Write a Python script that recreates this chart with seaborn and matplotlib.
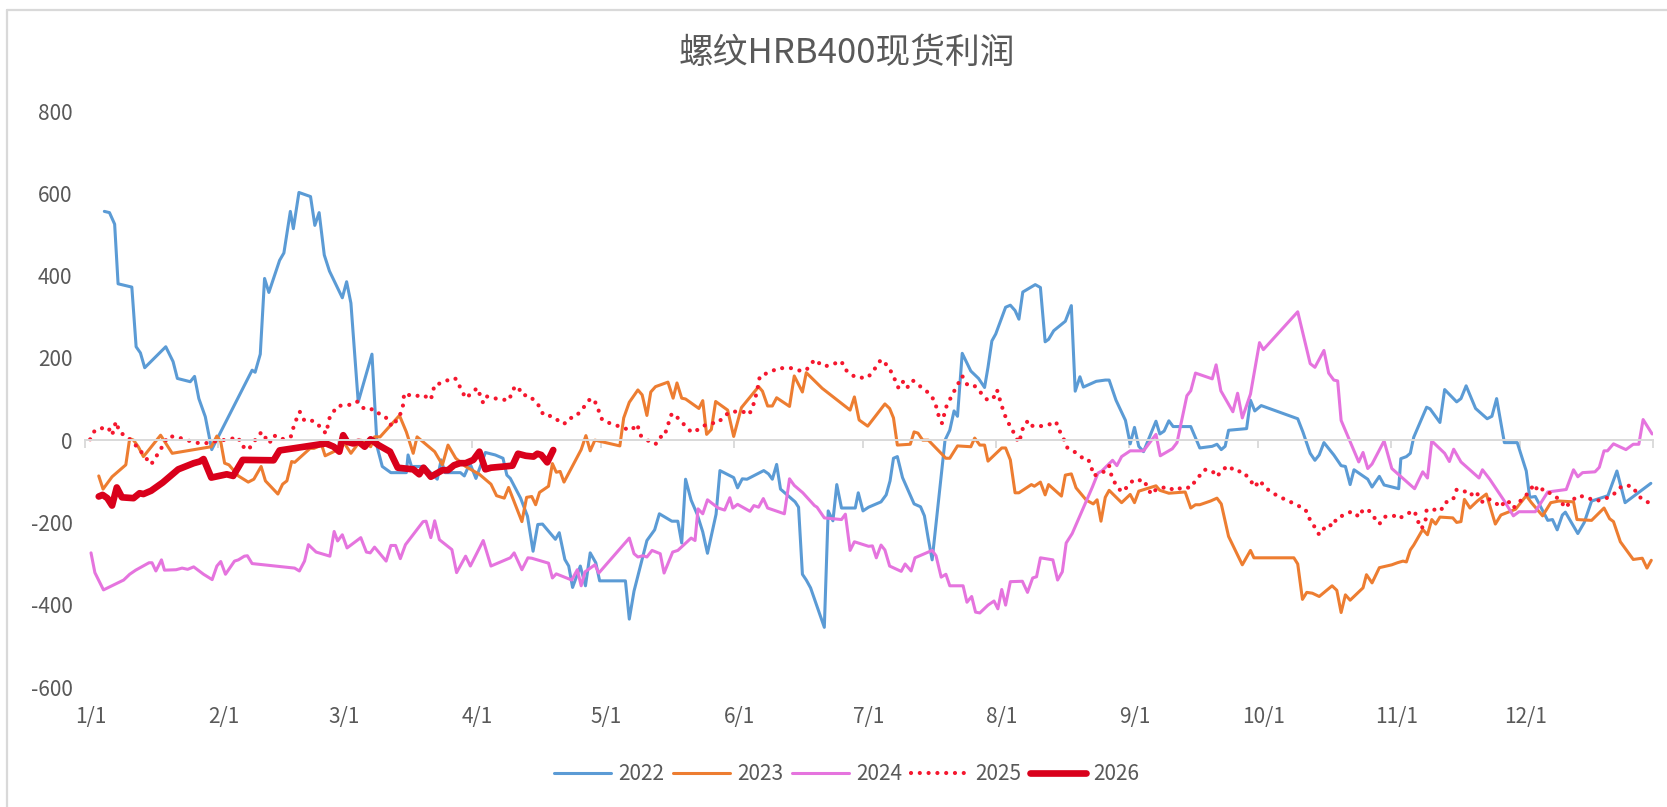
import matplotlib
matplotlib.use("Agg")
import matplotlib.pyplot as plt
from matplotlib.lines import Line2D
import seaborn as sns

# ---------------- data (day of year, value) ----------------
days_2022 = [4.5,5.7,6.9,7.7,10.9,11.9,12.9,13.9,18.8,20.5,21.5,24.5,25.5,26.5,28,29.5,38.9,39.6,40.8,41.8,42.8,45.3,46.3,47.8,48.5,49.8,52.5,53.5,54.5,55.7,56.9,59.9,60.9,61.9,63.6,66.8,68,
             69.2,71.2,74.8,75.2,76,79,82,82.9,83.8,87.4,88.3,89.6,91,93.2,95.5,97.3,98.2,99,101.4,103,104.3,105.4,106.5,109.5,110.4,111.7,112.6,113.5,115.3,116.5,117.6,118.9,119.8,
             125.8,126.7,127.8,130.8,132.6,133.7,136.6,138.0,138.9,139.8,141.1,142.5,143.8,144.9,146.9,147.8,151.0,151.9,153.0,154.1,158.0,159.1,160.0,161.0,161.9,165.3,166.1,167.0,167.9,168.9,172.1,173.0,174.1,175.0,176.1,179.3,180.0,181.1,182.4,185.3,186.5,187.4,188.2,189.1,190.3,193.0,194.5,195.4,196.3,197.2,200.2,201.3,202.3,203.1,204.2,206.2,208.0,209.4,210.2,211.1,212.0,214.3,215.4,216.5,217.4,218.3,221.2,222.4,223.5,224.3,225.5,228.2,229.6,230.5,231.6,232.4,235.4,
             237.5,238.4,240.0,242.2,243.3,244.3,245.3,246.4,249.3,250.2,251.2,252.3,253.3,257.4,259.5,262.4,263.5,264.5,265.4,266.2,270.4,271.3,272.3,273.8,282.3,283.5,285.2,286.3,287.3,288.4,290.7,292.4,293.4,294.5,295.4,298.6,299.6,301.3,302.4,305.8,306.3,307.6,308.5,309.3,312.3,313.1,315.4,316.5,319.3,320.3,321.5,323.7,326.4,327.5,328.6,330.4,333.4,335.5,336.3,337.6,340.5,341.6,342.7,343.9,344.6,347.5,349.0,350.7,354.5,356.6,358.5,364.5]
vals_2022 = [556,553,525,380,372,227,212,176,227,191,150,142,155,101,57,-23,170,165,209,393,359,437,455,556,514,602,592,522,553,450,411,346,385,333,93,209,-16,
             -64,-79,-79,-36,-64,-64,-95,-48,-79,-79,-87,-56,-93,-30,-36,-44,-85,-93,-141,-185,-270,-205,-204,-241,-225,-290,-306,-358,-306,-354,-274,-298,-342,
             -342,-435,-367,-244,-218,-179,-197,-197,-250,-95,-146,-180,-223,-275,-180,-74,-91,-116,-94,-95,-74,-82,-95,-59,-119,-150,-163,-326,-340,-359,-455,-172,-196,-108,-165,-165,-128,-172,-163,-150,-133,-99,-44,-40,-91,-155,-162,-184,-240,-291,0,24,71,58,211,168,150,128,177,241,258,323,328,315,294,360,378,371,239,245,266,289,327,119,154,129,143,
             146,146,97,48,-9,31,-15,-28,46,15,22,47,33,33,-19,-15,-10,-23,-15,24,28,97,71,84,52,20,-32,-49,-36,-6,-36,-62,-64,-108,-72,-95,-114,-88,-109,-118,-45,-40,-32,7,80,76,43,123,93,101,132,77,52,58,101,-6,-6,-75,-139,-137,-195,-193,-218,-182,-175,-227,-200,-148,-135,-75,-152,-105]

days_2023 = [3.2,4.2,6.3,9.5,10.4,11.3,12.4,13.6,17.6,20.3,29.4,30.7,31.6,32.5,33.5,35.7,38.0,39.3,41.0,42.0,44.9,46.0,47.0,48.1,48.8,52.4,53.3,55.1,55.9,57.9,59.2,60.4,61.9,64.2,66.5,67.4,68.7,73.2,74.8,76.4,77.3,81.4,83.2,84.5,86.3,88.6,91.8,94.5,95.8,97.6,98.6,101.7,102.8,104.0,104.9,105.8,
             107.9,108.8,109.7,110.6,111.5,115.5,116.6,117.6,118.7,124.5,125.4,126.7,128.7,129.7,130.8,131.7,132.8,135.7,136.9,137.8,138.9,139.8,142.9,143.8,144.7,145.8,146.8,149.6,151.0,152.8,156.8,157.7,158.9,160.0,161.0,164.0,165.1,167.0,167.9,171.6,178.1,179.1,180.2,182.2,186.2,187.3,188.2,189.1,192.1,193.0,193.9,195.0,196.3,200.4,201.3,203.1,206.2,207.1,208.3,209.4,210.2,213.4,214.3,215.4,216.5,217.4,220.3,221.0,222.4,223.5,224.3,227.3,228.2,229.6,230.7,233.1,234.7,235.6,236.5,
             237.5,238.4,241.3,243.3,244.3,245.3,249.3,250.2,252.3,256.1,257.4,258.5,259.5,262.0,263.5,264.5,266.2,269.4,271.3,272.1,281.4,282.3,283.4,284.4,285.7,287.3,290.3,291.4,292.4,293.4,294.5,297.5,298.3,299.6,301.3,304.2,305.5,306.8,307.6,308.5,309.3,311.4,312.5,313.5,314.4,315.4,318.4,319.3,320.3,321.1,322.4,324.1,326.2,328.3,329.6,333.0,335.5,336.7,339.3,341.2,343.1,346.5,347.3,350.7,353.6,354.9,355.8,357.4,360.4,362.5,363.6,364.6]
vals_2023 = [-87,-119,-89,-60,4,0,-16,-40,12,-32,-16,10,-4,-56,-60,-87,-102,-95,-64,-99,-131,-107,-99,-52,-54,-20,-20,-12,-38,-28,-20,-8,-32,0,-16,8,8,60,20,-32,8,-28,-60,-12,-44,-64,-83,-107,-135,-141,-115,-198,-139,-137,-157,-127,
             -112,-57,-78,-76,-102,-23,11,-26,0,-14,54,92,122,110,60,117,130,141,102,139,102,100,77,96,14,26,94,73,9,79,130,119,83,83,103,82,156,117,164,126,73,105,49,34,88,77,54,-12,-10,20,17,0,0,-44,-44,-14,-16,5,-12,-12,-51,-19,-19,-48,-128,-128,-108,-112,-102,-133,-108,-136,-85,-82,-116,-146,-155,-145,-197,
             -139,-122,-152,-132,-152,-124,-111,-122,-129,-126,-165,-157,-157,-148,-141,-155,-234,-303,-268,-286,-286,-301,-387,-370,-372,-380,-354,-365,-419,-376,-389,-359,-327,-347,-310,-303,-298,-294,-296,-267,-255,-217,-230,-193,-204,-187,-189,-200,-198,-144,-165,-148,-131,-204,-182,-168,-135,-152,-184,-152,-148,-150,-193,-195,-165,-191,-198,-247,-290,-287,-311,-292]

days_2024 = [1.4,2.3,4.3,9.0,10.4,11.8,14.9,15.6,16.5,17.8,18.5,21.2,22.6,23.9,25.3,27.6,29.6,30.7,31.6,32.7,34.8,35.7,37.1,37.8,38.9,48.8,49.9,51.1,52.0,53.8,57.0,58.0,58.8,59.9,61.0,64.2,65.5,66.4,67.4,70.1,71.2,72.3,73.4,74.6,78.7,79.4,80.5,81.4,82.5,85.4,86.5,88.6,89.7,92.7,94.5,99.0,99.9,101.7,103.1,104.0,
             107.9,108.8,109.7,113.3,114.6,115.5,116.4,118.7,119.6,126.7,127.8,128.7,129.9,130.8,132.0,133.9,134.8,136.8,138.0,141.1,142.0,142.7,143.8,144.9,147.4,148.9,150.1,150.8,151.9,154.8,155.7,156.8,157.9,158.9,162.8,164.0,165.1,167.1,169.8,170.4,172.1,176.1,177.0,178.1,179.1,182.4,183.3,184.2,185.3,186.2,187.3,190.0,190.9,192.3,193.2,197.2,198.1,199.3,200.4,201.3,204.4,205.3,206.4,207.3,208.3,210.2,211.6,212.5,213.4,214.3,215.4,218.2,219.4,220.6,221.5,222.4,225.3,226.4,227.5,228.4,229.8,234.5,235.8,
             236.7,239.2,240.2,241.3,243.3,246.4,249.3,250.3,253.1,254.2,256.5,257.4,258.5,262.4,263.3,264.4,267.2,268.3,269.4,271.3,273.4,274.3,282.3,285.2,286.3,288.4,289.5,290.7,291.6,292.4,296.5,297.5,298.6,299.6,302.4,304.2,309.5,311.4,312.5,313.5,316.5,317.6,318.6,320.3,324.5,325.3,327.0,330.4,332.5,333.8,337.6,340.5,344.8,346.5,347.5,348.6,351.5,352.5,353.6,354.4,355.8,358.7,360.4,361.7,362.7,364.8]
vals_2024 = [-274,-322,-364,-340,-326,-316,-298,-298,-318,-291,-316,-315,-311,-314,-308,-326,-339,-306,-295,-326,-294,-291,-282,-281,-300,-311,-318,-294,-254,-272,-282,-222,-245,-230,-262,-237,-272,-274,-260,-294,-256,-256,-288,-254,-198,-197,-237,-196,-242,-266,-322,-282,-306,-244,-306,-286,-274,-315,-286,-287,
             -299,-335,-325,-340,-315,-354,-320,-303,-323,-238,-276,-284,-281,-284,-268,-276,-323,-272,-268,-238,-244,-167,-179,-145,-165,-170,-140,-165,-156,-173,-159,-163,-142,-165,-179,-94,-110,-128,-159,-163,-189,-193,-180,-268,-247,-258,-257,-286,-255,-267,-306,-319,-301,-318,-286,-268,-281,-333,-326,-354,-354,-394,-380,-418,-420,-401,-391,-410,-363,-401,-344,-343,-370,-335,-332,-286,-291,-340,-320,-250,-227,-114,-80,
             -75,-49,-62,-40,-26,-26,14,-38,-21,-6,108,120,163,149,183,120,69,114,54,112,237,220,312,186,177,218,163,146,144,48,-53,-30,-69,-58,-2,-69,-118,-77,-92,-2,-32,-52,-22,-53,-92,-72,-95,-148,-184,-174,-174,-126,-120,-72,-89,-79,-77,-66,-26,-26,-9,-23,-10,-10,50,15]

days_2025 = [1.2,2.3,4.3,5.4,6.3,7.2,8.1,9.3,10.4,12.5,14.0,15.4,17.4,19.4,21.7,23.5,25.3,26.7,28.5,30.7,33.5,35.7,36.3,38.0,39.3,41.1,42.9,43.9,45.7,47.9,48.8,50.0,51.1,53.2,54.7,56.1,57.0,58.8,61.7,63.3,65.1,67.4,69.2,70.5,71.4,73.2,74.0,74.3,76.4,78.7,80.5,81.4,83.2,85.4,86.3,87.2,88.6,90.0,91.3,92.7,93.6,94.9,96.7,98.6,99.9,100.8,101.7,103.5,105.8,106.7,
             108.8,110.1,111.5,112.8,113.7,114.6,115.7,116.7,117.8,118.7,119.6,120.4,122.2,124.2,125.8,127.2,128.5,129.4,131.2,132.8,133.9,134.8,135.7,136.6,138.0,139.8,141.1,142.0,142.9,143.8,145.6,147.4,148.7,150.1,152.8,154.6,155.5,156.4,157.1,158.6,160.0,161.3,162.7,164.5,166.7,167.9,168.9,170.0,171.2,172.1,173.9,176.1,176.8,177.9,179.3,182.0,183.1,184.2,185.3,186.5,187.8,188.7,189.4,190.5,191.4,192.7,194.5,195.9,197.2,198.1,198.7,199.5,200.4,202.0,203.1,204.2,205.3,206.7,207.6,208.9,210.2,211.6,212.3,213.4,214.3,215.2,216.1,217.3,217.9,218.5,219.7,220.6,222.4,224.2,226.0,226.9,227.8,228.7,230.0,231.4,232.7,233.6,234.3,234.9,236.3,
             237.1,238.4,239.0,240.0,241.3,242.6,244.1,245.3,246.4,247.2,248.2,249.3,250.6,252.3,253.4,254.4,255.4,257.4,258.5,259.5,260.5,261.6,262.4,263.5,264.5,266.1,267.2,268.3,269.6,270.4,271.5,272.3,273.4,274.7,276.0,277.6,279.3,281.0,282.7,283.5,284.4,285.2,286.5,287.3,288.4,289.5,290.4,291.4,293.1,294.5,295.5,296.5,297.5,298.7,299.8,301.3,302.4,303.4,304.7,305.5,307.2,308.5,309.5,310.1,311.1,312.0,312.3,314.4,315.6,316.5,318.4,319.3,321.1,322.4,323.7,325.3,326.4,328.3,329.6,330.6,331.7,332.5,333.4,335.1,336.3,337.3,338.4,339.5,340.5,342.1,343.5,344.6,345.6,347.5,349.4,351.5,353.6,355.8,357.4,358.7,360.4,361.5,363.4,364.5]
vals_2025 = [2,24,30,31,12,45,18,12,2,-20,-41,-59,-26,10,7,0,-4,-8,-7,-2,2,7,-12,-24,-4,20,-8,12,2,8,41,69,47,47,33,16,57,83,86,94,75,75,57,53,33,57,83,114,106,110,98,135,139,151,149,131,102,114,127,90,106,102,100,96,127,131,110,108,82,61,
             58,48,39,54,54,62,73,90,102,94,71,49,41,34,28,24,39,11,-2,-10,8,8,37,65,54,34,20,20,28,34,41,42,58,68,71,62,83,117,156,162,168,175,175,175,168,170,185,196,184,179,184,192,173,164,153,151,162,179,196,184,164,143,126,143,128,145,130,119,105,83,60,41,79,113,134,156,136,136,126,111,96,105,122,83,56,37,20,-6,11,37,48,34,34,37,45,22,3,-19,-26,-36,-48,-48,-68,-87,-78,
             -77,-62,-89,-109,-126,-114,-96,-98,-96,-112,-132,-120,-116,-114,-122,-120,-114,-116,-98,-86,-72,-72,-75,-89,-75,-62,-71,-71,-86,-86,-101,-114,-98,-114,-126,-135,-144,-152,-161,-163,-174,-195,-215,-230,-215,-204,-210,-189,-182,-175,-175,-187,-169,-169,-184,-204,-187,-184,-184,-191,-184,-175,-172,-193,-215,-200,-169,-169,-172,-152,-146,-120,-124,-135,-124,-150,-141,-152,-163,-146,-152,-165,-155,-138,-124,-107,-126,-118,-126,-135,-148,-165,-152,-135,-138,-148,-144,-132,-115,-109,-114,-135,-150,-152]

days_2026 = [3.2,4.1,5.2,6.3,7.4,8.6,11.3,12.7,13.6,15.4,18.1,21.7,25.3,26.7,27.6,29.4,33.0,34.5,36.7,43.9,45.3,56.1,57.9,59.2,60.1,61.0,62.4,63.7,65.1,66.5,68.3,71.0,72.8,76.4,77.8,78.8,80.5,83.2,84.5,85.9,87.3,88.6,90.4,91.8,93.2,94.5,97.6,99.5,100.8,102.6,104.4,105.3,106.2,107.6,109.0]
vals_2026 = [-137,-133,-141,-159,-115,-139,-141,-129,-131,-123,-103,-71,-56,-52,-46,-91,-83,-87,-48,-49,-25,-8,-16,-28,12,-4,-8,-4,-16,2,-12,-28,-67,-71,-83,-67,-89,-73,-73,-61,-56,-56,-48,-28,-71,-67,-64,-62,-33,-38,-40,-33,-36,-54,-24]

month_days = [0, 31, 59, 90, 120, 151, 181, 212, 243, 273, 304, 334]
month_labels = ["1/1", "2/1", "3/1", "4/1", "5/1", "6/1", "7/1", "8/1", "9/1", "10/1", "11/1", "12/1"]
y_ticks = [-600, -400, -200, 0, 200, 400, 600, 800]
title = "螺纹HRB400现货利润"

# ---------------- style ----------------
sns.set_theme(style="white")
plt.rcParams['font.family'] = ['Noto Sans CJK SC', 'DejaVu Sans']
text_color = "#595959"
grid_color = "#D9D9D9"

W, H = 1667, 807
fig = plt.figure(figsize=(W / 100, H / 100), dpi=100)
ax = fig.add_axes([85 / W, 120 / H, 1568 / W, 576 / H])

series = [
    ("2022", days_2022, vals_2022, dict(color="#5B9BD5", linewidth=2.2)),
    ("2023", days_2023, vals_2023, dict(color="#ED7D31", linewidth=2.2)),
    ("2024", days_2024, vals_2024, dict(color="#E574DE", linewidth=2.2)),
    ("2025", days_2025, vals_2025, dict(color="#F5172E", linewidth=3.0,
                                        linestyle=(0, (0.01, 2.1)), dash_capstyle="round")),
    ("2026", days_2026, vals_2026, dict(color="#D9001B", linewidth=4.8,
                                        solid_joinstyle="round", solid_capstyle="round")),
]
for name, d, v, kw in series:
    sns.lineplot(x=d, y=v, ax=ax, label=name, estimator=None, sort=False, **kw)

ax.set_xlim(0, 365)
ax.set_ylim(-600, 800)
ax.grid(False)
for s in ("top", "right", "left"):
    ax.spines[s].set_visible(False)
ax.spines["bottom"].set_position(("data", 0))
ax.spines["bottom"].set_color(grid_color)
ax.spines["bottom"].set_linewidth(1.4)
ax.set_xticks(month_days + [365])
ax.tick_params(axis="x", direction="out", length=6, width=1.3, color=grid_color,
               bottom=True, labelbottom=False)
ax.set_yticks(y_ticks)
ax.set_yticklabels([str(t) for t in y_ticks])
ax.tick_params(axis="y", length=0, labelsize=15, labelcolor=text_color, pad=9)
ax.set_xlabel("")
ax.set_ylabel("")

sec = ax.secondary_xaxis(0, functions=(lambda x: x - 1.4, lambda x: x + 1.4))
sec.set_xticks(month_days)
sec.set_xticklabels(month_labels)
sec.tick_params(axis="x", length=0, labelsize=15, labelcolor=text_color, pad=14)
sec.spines["bottom"].set_visible(False)

handles, labels = ax.get_legend_handles_labels()
if ax.get_legend() is not None:
    ax.get_legend().remove()
fig.legend(handles, labels, loc="center", bbox_to_anchor=(847 / W, 1 - 774 / H), ncol=5,
           frameon=False, fontsize=15, handlelength=2.7, handletextpad=0.35,
           columnspacing=0.45, labelcolor=text_color)

fig.text(847 / W, 1 - 53 / H, title, ha="center", va="center", fontsize=25,
         fontweight="light", color=text_color)

fig.add_artist(Line2D([7 / W, 7 / W], [0, 1 - 10 / H], transform=fig.transFigure,
                      color=grid_color, linewidth=1.6))
fig.add_artist(Line2D([7 / W, 1], [1 - 10 / H, 1 - 10 / H], transform=fig.transFigure,
                      color=grid_color, linewidth=1.6))

fig.savefig("out.png", dpi=100)
